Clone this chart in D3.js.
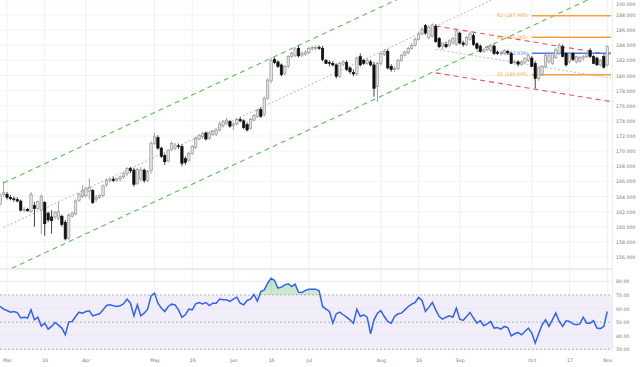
<!DOCTYPE html>
<html>
<head>
<meta charset="utf-8">
<script src="https://cdn.jsdelivr.net/npm/d3@7"></script>
<style>
body { margin: 0; background: #fff; }
svg { display: block; font-family: "DejaVu Sans", sans-serif; }
</style>
</head>
<body>
<div id="chart"></div>
<script>
var width = 640, height = 367;

// daily candles [open, high, low, close], grouped by month (trading days)
var febCandles = [[163.0,164.4,162.8,164.2],[164.3,166.0,164.0,164.5]];
var marCandles = [
	[164.3,164.6,163.6,163.9],[163.9,164.2,163.5,163.7],[163.7,164.0,163.3,163.6],[163.6,163.9,163.2,163.4],
	[163.4,163.6,162.0,162.2],[162.2,162.6,161.9,162.3],[162.3,162.5,162.0,162.1],[162.0,164.6,161.8,164.3],
	[162.8,163.3,160.0,162.4],[162.4,163.5,162.2,163.3],[162.2,164.3,159.0,164.0],[163.2,163.4,158.8,160.4],
	[161.8,162.0,160.6,160.9],[161.3,162.2,159.1,160.8],[161.3,162.1,161.0,161.9],[161.1,163.3,160.9,162.0],
	[161.4,161.6,160.0,160.3],[160.6,160.9,158.2,158.4],[158.5,161.8,158.2,161.5],[161.4,162.0,161.2,161.8],
	[161.7,163.6,161.5,163.4],[163.5,164.5,163.3,164.3],[164.0,165.5,163.8,164.8]];
var aprCandles = [
	[164.1,165.3,163.9,165.0],[164.7,166.4,163.6,165.2],[164.8,165.0,163.0,163.2],[163.6,164.2,163.3,163.9],
	[163.9,164.3,163.7,164.1],[164.1,165.6,163.9,165.4],[165.5,166.4,165.3,166.1],[166.1,166.5,165.8,166.3],
	[166.3,166.6,165.9,166.1],[166.1,166.5,165.9,166.4],[166.3,166.8,166.0,166.6],[166.6,167.2,166.3,167.0],
	[167.0,167.9,166.7,167.7],[167.7,167.9,167.1,167.4],[167.5,167.8,165.3,165.6],[165.7,167.8,165.5,167.6],
	[166.3,167.9,166.0,167.5],[167.5,167.7,165.8,166.1],[166.1,167.5,165.9,167.3],[167.4,171.3,167.0,171.0]];
var mayCandles = [
	[171.0,172.4,170.8,171.9],[171.8,172.1,170.2,170.4],[170.4,170.6,169.1,169.3],[169.4,169.7,168.2,168.6],
	[168.7,170.3,168.5,170.1],[170.2,171.3,170.0,171.0],[170.4,171.1,170.1,170.8],[170.7,171.0,170.3,170.6],
	[170.6,170.9,168.0,168.4],[169.0,169.3,168.2,168.5],[168.8,169.9,168.6,169.7],[169.7,170.8,169.5,170.6],
	[170.5,171.9,170.3,171.7],[171.6,172.3,171.4,172.1],[171.9,172.5,171.6,172.3],[172.4,172.6,171.4,171.6],
	[171.7,172.6,171.5,172.4],[172.2,172.8,172.0,172.6],[172.2,173.0,172.0,172.8],[172.8,173.9,172.6,173.6],
	[173.4,174.1,173.1,173.9],[173.7,174.4,173.5,174.1],[173.9,174.1,173.1,173.3]];
var junCandles = [
	[173.4,173.8,172.8,173.6],[173.6,174.4,173.4,174.2],[174.2,174.5,173.8,174.0],[174.0,174.2,172.9,173.1],
	[173.5,173.8,172.6,172.8],[173.0,174.4,172.9,174.2],[174.1,174.9,173.9,174.7],[174.6,175.6,174.4,175.4],
	[175.5,175.8,174.4,174.6],[174.8,177.2,174.6,177.0],[177.0,179.6,176.8,179.4],[179.3,182.4,179.0,182.0],
	[182.1,182.4,181.5,181.7],[181.8,182.0,181.0,181.2],[181.4,181.6,179.9,180.1],[180.3,181.4,180.0,181.2],
	[181.2,182.7,181.0,182.5],[182.5,183.1,182.3,182.9],[182.6,183.8,182.4,183.5],[183.6,183.9,182.4,182.6],
	[182.7,183.2,182.4,182.9],[182.8,183.3,182.6,183.1]];
var julCandles = [
	[183.0,183.8,182.8,183.6],[183.5,183.9,183.3,183.7],[183.6,184.0,183.3,183.7],[183.7,184.0,183.4,183.6],
	[183.6,183.9,181.9,182.1],[182.0,182.2,181.5,181.6],[181.7,182.0,181.2,181.6],[181.6,181.9,181.2,181.4],
	[181.4,181.6,179.6,179.9],[179.9,181.8,179.7,181.6],[181.5,182.0,181.2,181.8],[181.7,182.0,180.6,180.8],
	[181.0,181.2,180.2,180.5],[180.4,180.8,179.9,180.2],[180.2,182.5,180.0,182.3],[182.5,182.9,181.2,181.4],
	[182.0,182.2,181.4,181.6],[181.6,182.3,181.4,182.0],[181.8,182.1,181.2,181.4],[181.4,181.8,177.2,178.3],
	[178.5,181.8,176.5,181.6]];
var augCandles = [
	[181.6,183.1,181.3,182.9],[182.8,183.5,182.6,183.2],[183.2,183.5,180.8,181.0],[181.2,181.5,180.5,180.8],
	[180.8,181.2,180.5,180.9],[180.9,182.2,180.7,182.0],[182.0,182.8,181.8,182.7],[182.7,183.3,182.5,183.1],
	[183.0,183.8,182.8,183.6],[183.6,184.3,183.4,184.0],[184.0,185.0,183.8,184.8],[184.8,185.8,184.6,185.5],
	[185.5,186.4,185.3,186.1],[186.6,186.8,185.4,185.6],[185.0,186.7,184.8,186.4],[185.2,186.9,185.0,186.7],
	[186.5,186.8,184.3,184.5],[184.9,185.1,183.6,183.8],[183.9,184.4,183.4,184.3],[184.1,184.5,183.6,183.8],
	[184.0,184.8,183.8,184.6],[184.3,185.1,184.1,184.9],[184.1,186.2,183.9,185.9]];
var sepCandles = [
	[185.6,185.8,184.1,184.3],[184.3,184.6,183.8,184.1],[184.1,185.2,183.9,185.0],[184.8,185.8,184.6,185.5],
	[185.3,185.6,183.9,184.1],[184.2,184.4,183.4,183.6],[183.9,184.1,183.0,183.2],[183.2,183.6,183.0,183.4],
	[183.4,183.9,183.2,183.7],[183.3,184.2,183.1,184.0],[183.9,184.1,182.7,182.9],[183.1,183.3,182.7,182.9],
	[182.9,183.2,182.6,183.0],[182.9,183.5,182.7,183.3],[183.2,183.4,182.8,183.0],[182.9,183.1,181.5,181.6],
	[181.7,182.0,181.4,181.8],[181.8,182.0,181.2,181.5],[181.5,182.0,181.3,181.8],[181.7,182.4,181.5,182.3],
	[182.0,182.9,181.8,182.7]];
var octCandles = [
	[182.3,182.6,181.1,181.2],[181.6,181.9,178.3,179.6],[179.6,181.1,179.3,181.0],[180.1,181.4,179.9,181.2],
	[181.2,182.9,181.0,182.7],[181.8,182.9,181.6,182.6],[181.6,183.1,181.4,182.9],[182.4,183.6,182.2,183.4],
	[182.9,184.3,182.7,184.0],[183.8,184.1,182.4,182.5],[182.9,183.1,181.2,181.4],[181.8,183.1,181.6,182.9],
	[182.9,183.1,181.9,182.1],[181.8,182.6,181.6,182.5],[181.9,182.6,181.7,182.4],[182.3,182.7,182.0,182.5],
	[182.5,183.1,182.3,182.9],[183.3,183.6,182.3,182.5],[182.5,182.7,181.5,181.6],[182.3,182.5,181.3,181.4],
	[181.4,182.2,181.2,182.0],[182.5,182.8,180.9,181.1]];
var novCandles = [[181.4,184.0,181.2,183.8]];

// RSI(14) per trading day, same months
var febRsi = [61.5, 59.5];
var marRsi = [58.5,57.3,57.8,57.0,53.0,53.6,53.0,59.0,51.7,53.6,47.0,49.2,44.8,46.8,49.7,47.8,45.6,40.7,50.2,50.5,54.1,57.3,56.6];
var aprRsi = [57.8,58.3,54.6,55.4,56.1,59.0,62.2,62.7,62.0,61.5,62.0,63.5,66.9,63.9,54.6,62.7,54.6,56.6,59.5,69.3];
var mayRsi = [71.3,63.9,60.3,57.8,61.5,63.2,62.7,59.0,53.5,55.4,59.5,59.0,63.4,64.4,63.4,64.4,62.2,63.9,63.9,66.9,66.4,66.4,65.2];
var junRsi = [66.9,68.3,63.9,62.7,65.9,66.9,70.3,65.5,72.5,73.7,78.6,82.3,80.6,75.0,75.7,77.4,78.2,76.2,77.9,72.0,71.8,73.3];
var julRsi = [74.2,74.2,74.2,73.0,61.5,59.5,57.8,49.2,56.1,57.3,55.4,53.6,51.7,49.2,59.5,54.1,55.4,53.6,41.4,51.7,56.6];
var augRsi = [58.5,54.1,50.5,49.2,54.1,56.1,56.6,59.0,61.5,63.2,64.4,68.1,65.9,57.8,61.0,64.4,59.0,54.1,52.2,53.6,54.6,53.6,60.3];
var sepRsi = [52.2,51.2,54.1,57.1,53.0,49.2,51.0,47.3,48.7,50.5,45.6,46.0,44.8,46.8,46.0,39.9,41.4,42.4,40.7,43.1,45.6];
var octRsi = [41.9,34.6,41.4,48.0,51.7,46.8,51.7,56.6,50.5,46.8,51.0,50.5,48.7,48.0,48.7,53.6,49.2,49.2,51.0,45.6,45.2,46.9];
var novRsi = [57.8];

// x axis ticks (trading day index, 0 = 1 Mar)
var tickDays = [0, 11, 23, 43, 54, 66, 77, 88, 109, 120, 132, 153, 164, 175];
var tickLabels = ["Mar","16","Apr","May","16","Jun","16","Jul","Aug","16","Sep","Oct","17","Nov"];

// trend lines [day, price]
var greenUpper = [[-1, 165.8], [175, 203.0]];
var greenLower = [[-1, 154.0], [175, 191.2]];
var greenMid = [[-1, 159.9], [175, 197.1]];
var redUpper = [[125, 186.55], [176, 182.75]];
var redLower = [[125, 180.35], [176, 176.55]];
var redMid = [[125, 183.45], [176, 179.65]];

// pivot points
var pivotNames = ["R2", "R1", "P", "S1"];
var pivotValues = [187.905, 185.061, 182.939, 180.095];
var pivotStart = 153;

var candles = [].concat(febCandles, marCandles, aprCandles, mayCandles, junCandles,
	julCandles, augCandles, sepCandles, octCandles, novCandles).map(function(d, i){
	return {i: i - 2, o: d[0], h: d[1], l: d[2], c: d[3]};
});
var rsi = [].concat(febRsi, marRsi, aprRsi, mayRsi, junRsi, julRsi, augRsi, sepRsi, octRsi, novRsi).map(function(v, i){
	return {i: i - 2, v: v};
});

var plotRight = 612;
var mainBottom = 268;
var rsiTop = 270, rsiBottom = 352;

var x = d3.scaleLinear().domain([0, 175]).range([7, 607.25]);
var y = d3.scaleLinear().domain([156, 188]).range([257, 15]);
var yr = d3.scaleLinear().domain([30, 80]).range([349.3, 281.3]);

var svg = d3.select("#chart").append("svg")
	.attr("width", width)
	.attr("height", height);

var defs = svg.append("defs");
defs.append("clipPath").attr("id", "clipMain")
	.append("rect").attr("x", 0).attr("y", 0).attr("width", plotRight).attr("height", mainBottom);
defs.append("clipPath").attr("id", "clipRsi")
	.append("rect").attr("x", 0).attr("y", rsiTop).attr("width", plotRight).attr("height", rsiBottom - rsiTop);
defs.append("clipPath").attr("id", "clipOver")
	.append("rect").attr("x", 0).attr("y", rsiTop).attr("width", plotRight).attr("height", yr(70) - rsiTop);
var grad = defs.append("linearGradient").attr("id", "overGrad")
	.attr("x1", 0).attr("y1", 0).attr("x2", 0).attr("y2", 1);
grad.append("stop").attr("offset", "0%").attr("stop-color", "rgba(76,175,80,0.35)");
grad.append("stop").attr("offset", "100%").attr("stop-color", "rgba(76,175,80,0.05)");

// grid
svg.append("g").selectAll("line")
	.data(d3.range(156, 191, 2))
	.enter().append("line")
	.attr("x1", 0).attr("x2", plotRight)
	.attr("y1", function(d){ return y(d); })
	.attr("y2", function(d){ return y(d); })
	.style("stroke", "#f3f3f3");

svg.append("g").selectAll("line")
	.data(tickDays)
	.enter().append("line")
	.attr("x1", function(d){ return x(d); })
	.attr("x2", function(d){ return x(d); })
	.attr("y1", 0).attr("y2", rsiBottom)
	.style("stroke", "#f0f0f0");

svg.append("line")
	.attr("x1", 0).attr("x2", plotRight).attr("y1", 269).attr("y2", 269)
	.style("stroke", "#ececec").style("stroke-width", 2);
svg.append("line")
	.attr("x1", plotRight + 0.5).attr("x2", plotRight + 0.5).attr("y1", 0).attr("y2", rsiBottom)
	.style("stroke", "#eeeeee");

// trend lines
var main = svg.append("g").attr("clip-path", "url(#clipMain)");
var trend = d3.line()
	.x(function(d){ return x(d[0]); })
	.y(function(d){ return y(d[1]); });

function drawTrend(pts, color, dash){
	main.append("path")
		.attr("d", trend(pts))
		.style("fill", "none")
		.style("stroke", color)
		.style("stroke-width", 1.1)
		.style("stroke-dasharray", dash);
}
drawTrend(greenMid, "#c4c4c4", "2,2");
drawTrend(redMid, "#c4c4c4", "2,2");
drawTrend(greenUpper, "#5cbf55", "5,4");
drawTrend(greenLower, "#5cbf55", "5,4");
drawTrend(redUpper, "#f0505a", "5,4");
drawTrend(redLower, "#f0505a", "5,4");

// pivots
var pivotColors = ["#f7a23a", "#f7a23a", "#4a78f0", "#f7a23a"];
for (var p = 0; p < pivotValues.length; p++){
	main.append("line")
		.attr("x1", x(pivotStart)).attr("x2", plotRight - 1)
		.attr("y1", y(pivotValues[p])).attr("y2", y(pivotValues[p]))
		.style("stroke", pivotColors[p])
		.style("stroke-width", 1.4);
	main.append("text")
		.attr("x", x(pivotStart) - 4)
		.attr("y", y(pivotValues[p]))
		.attr("dy", "0.35em")
		.attr("text-anchor", "end")
		.style("font-size", "4.7px")
		.style("fill", pivotColors[p])
		.text(pivotNames[p] + " (" + pivotValues[p].toFixed(3) + ")");
}

// candles
var bw = 2.4;
var cg = main.append("g").selectAll("g")
	.data(candles)
	.enter().append("g");
cg.append("line")
	.attr("x1", function(d){ return x(d.i); })
	.attr("x2", function(d){ return x(d.i); })
	.attr("y1", function(d){ return y(d.h); })
	.attr("y2", function(d){ return y(d.l); })
	.style("stroke", function(d){ return d.c >= d.o ? "#8c8c8c" : "#111"; })
	.style("stroke-width", 0.8);
cg.append("rect")
	.attr("x", function(d){ return x(d.i) - bw / 2; })
	.attr("width", bw)
	.attr("y", function(d){ return y(Math.max(d.o, d.c)); })
	.attr("height", function(d){ return Math.max(0.6, y(Math.min(d.o, d.c)) - y(Math.max(d.o, d.c))); })
	.style("fill", function(d){ return d.c >= d.o ? "#e2e2e2" : "#111"; })
	.style("stroke", function(d){ return d.c >= d.o ? "#8c8c8c" : "#111"; })
	.style("stroke-width", 0.6);

// RSI panel
var rsiG = svg.append("g").attr("clip-path", "url(#clipRsi)");
rsiG.append("rect")
	.attr("x", 0).attr("width", plotRight)
	.attr("y", yr(70)).attr("height", yr(30) - yr(70))
	.style("fill", "#f1eef9");
[80, 60, 40].forEach(function(v){
	rsiG.append("line")
		.attr("x1", 0).attr("x2", plotRight).attr("y1", yr(v)).attr("y2", yr(v))
		.style("stroke", "#ebe8f2");
});
[70, 50, 30].forEach(function(v){
	rsiG.append("line")
		.attr("x1", 0).attr("x2", plotRight).attr("y1", yr(v)).attr("y2", yr(v))
		.style("stroke", "#b5b5b5")
		.style("stroke-dasharray", "2,2");
});

rsiG.append("path")
	.datum(rsi)
	.attr("clip-path", "url(#clipOver)")
	.attr("d", d3.area()
		.x(function(d){ return x(d.i); })
		.y0(yr(70))
		.y1(function(d){ return yr(d.v); }))
	.style("fill", "url(#overGrad)");

rsiG.append("path")
	.datum(rsi)
	.attr("d", d3.line()
		.x(function(d){ return x(d.i); })
		.y(function(d){ return yr(d.v); }))
	.style("fill", "none")
	.style("stroke", "#2f62f5")
	.style("stroke-width", 1.5);

// axes
var yAxis = svg.append("g")
	.attr("transform", "translate(616,0)")
	.call(d3.axisRight(y).tickValues(d3.range(156, 191, 2)).tickFormat(d3.format(".3f")).tickSize(0).tickPadding(0));
var rAxis = svg.append("g")
	.attr("transform", "translate(616,0)")
	.call(d3.axisRight(yr).tickValues([30, 40, 50, 60, 70, 80]).tickFormat(d3.format(".2f")).tickSize(0).tickPadding(0));
var xAxis = svg.append("g")
	.attr("transform", "translate(0,359)")
	.call(d3.axisBottom(x).tickValues(tickDays).tickFormat(function(d, i){ return tickLabels[i]; }).tickSize(0).tickPadding(0));

[yAxis, rAxis, xAxis].forEach(function(a){
	a.select(".domain").remove();
	a.selectAll("text")
		.style("font-size", "4.7px")
		.style("font-family", "DejaVu Sans, sans-serif")
		.style("fill", "#7a7a7a");
});

// top label sits right at the edge, nudge it inside
yAxis.selectAll(".tick")
	.filter(function(d){ return d === 190; })
	.select("text")
	.attr("dy", "1.1em");
</script>
</body>
</html>
